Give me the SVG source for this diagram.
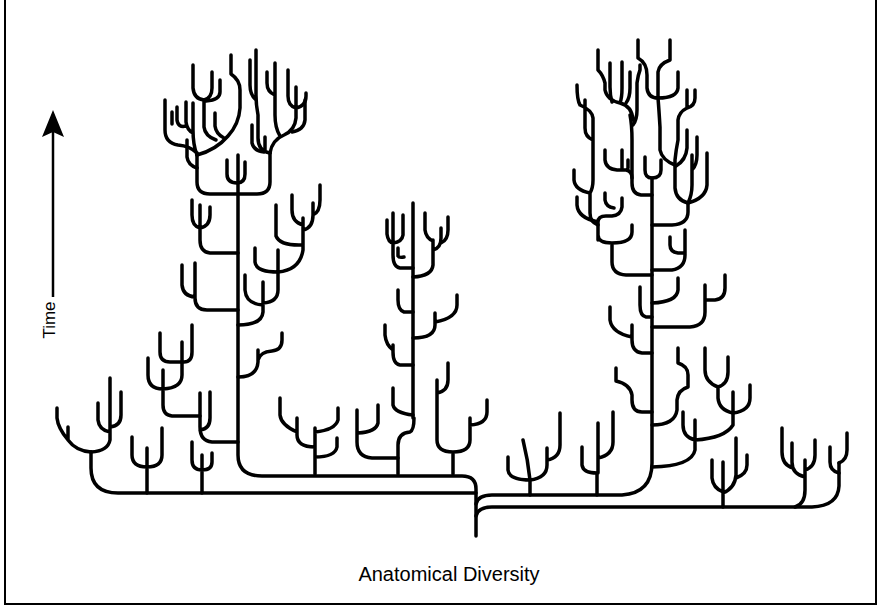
<svg xmlns="http://www.w3.org/2000/svg" width="880" height="610" viewBox="0 0 880 610">
<style>
.t{fill:none;stroke:#000;stroke-width:3.5;stroke-linecap:round;stroke-linejoin:round}
.fr{fill:none;stroke:#000;stroke-width:2}
.lb{font-family:"Liberation Sans",Arial,Helvetica,sans-serif;fill:#000}
</style>
<rect width="880" height="610" fill="#fff"/>
<g id="frame"><path class="fr" d="M5,0V604H876V0"/></g>
<g id="time-axis">
<path d="M53,297V128" stroke="#000" stroke-width="2.5" fill="none"/>
<path d="M53,110L64,137L53,132L42,137Z" fill="#000"/>
<text class="lb" font-size="17" transform="translate(55,320) rotate(-90)" text-anchor="middle">Time</text>
</g>
<g id="x-label"><text class="lb" x="449" y="581" font-size="20" text-anchor="middle">Anatomical Diversity</text></g>
<g id="connectors" class="t">
<g id="root">
<path d="M476,536V489Q476,476 462,476H262Q238,476 238,455V155"/>
<path d="M476,493H118Q91,493 91,468V452"/>
<path d="M476,504Q478,495 492,495H622Q652,493 652,463V178"/>
<path d="M476,516Q478,507 492,507H812Q838,506 839,486V463"/>
</g>
<g id="left-clades">
<path d="M91,452Q76,451 68,440Q58,428 57,418V408M68,440V427"/>
<path d="M91,452Q108,451 110,440V378M110,432Q99,430 98,420V403M110,427Q121,426 121,415V392"/>
<path d="M147,493V448M132,437V455Q132,467 147,467Q162,467 162,455V428"/>
<path d="M202,493V455M192,442V460Q192,470 202,470Q212,470 212,462V453"/>
</g>
<g id="big-left-tree">
<path d="M238,442H212Q200,441 200,427V393M200,430Q210,429 210,418V392"/>
<path d="M200,416H172Q163,415 163,405V370M148,358V375Q148,389 163,389Q182,388 182,375V362"/>
<path d="M160,333V352Q160,362 170,362H184Q192,362 192,352V325M182,362V342"/>
<path d="M238,377Q257,377 258,362V350M258,360Q260,352 272,351Q282,350 282,340V333"/>
<path d="M238,310H207Q195,310 195,298V263M195,297Q183,296 182,285V265"/>
<path d="M238,325Q262,325 263,312V282M263,305Q246,304 245,290V275M263,303Q278,302 278,290V250M278,272Q256,272 255,262V248"/>
<path d="M278,272Q300,270 303,250V218M303,225Q292,222 292,210V195M303,230Q313,228 313,215V203M313,215Q320,212 320,200V185M303,245Q280,246 276,236V205"/>
<path d="M238,253H210Q200,252 200,240V205M200,228Q192,226 192,215V200M200,228Q210,226 210,215V207"/>
<path d="M197,153V182Q197,194 210,194H257Q270,194 270,182V153"/>
<path d="M227,160V174Q227,183 237,183Q245,183 245,174V162"/>
<path d="M197,153Q190,146 178,145Q165,143 165,130V100M197,155Q193,145 193,130V103M186,102V122Q187,130 193,133M177,107V120Q178,128 186,126"/>
<path d="M197,155Q216,150 228,136Q239,124 240,108V90Q240,80 231,74V55"/>
<path d="M204,100V127Q205,136 216,140M193,65V88Q194,99 204,100M204,100Q212,98 212,88V72M220,80V92Q220,100 206,101M215,113V126Q216,134 224,138"/>
<path d="M270,153Q258,151 258,138V115Q256,105 256,95V50M256,100Q250,95 250,85V60"/>
<path d="M270,153Q272,140 284,135Q295,130 296,118V108M296,108Q288,106 288,96V70M296,108Q306,106 306,96V93M296,108V87M280,136Q275,128 275,115V63M275,95Q267,92 267,83V72"/>
<path d="M252,125V143Q254,151 264,152M187,140V157Q188,165 197,168M305,100V120Q304,130 292,132M265,137V150M172,112V124"/>
</g>
<g id="center-tree">
<path d="M413,418V203M398,474V445Q398,433 410,432Q414,430 414,418"/>
<path d="M453,474V452M437,380V440Q437,452 453,452Q470,452 470,440V418M470,425Q487,424 487,412V400M437,393Q448,391 448,380V363"/>
<path d="M398,458H372Q357,457 357,442V410M378,405V423Q376,432 358,433"/>
<path d="M315,474V428M315,447Q297,447 297,435V418M297,432Q281,425 280,415V398M315,432Q335,430 338,420V408M315,457Q335,457 337,447V438"/>
<path d="M413,312H404Q398,310 398,300V290"/>
<path d="M413,338Q435,338 435,325V313M435,322Q457,318 457,305V295"/>
<path d="M413,365H400Q393,364 393,352V345M393,350Q386,345 385,335V325"/>
<path d="M393,388V405Q395,413 413,415"/>
<path d="M413,268H400Q393,267 393,255V243M387,220V234Q388,242 393,243Q402,242 403,235V215M393,243V213M398,248V256Q399,258 404,257"/>
<path d="M413,277Q432,276 433,265V240M425,213V230Q426,238 433,241M433,250Q441,248 441,238V228M441,243Q448,240 448,230V217"/>
</g>
<g id="right-tree">
<path d="M652,467Q692,466 695,450V420M695,440Q683,437 683,425V412M695,440Q725,438 733,425V413"/>
<path d="M733,413Q719,410 718,398V387M733,413V392M733,413Q750,411 750,398V385M718,387Q705,382 705,370V348M718,387Q728,384 728,372V357"/>
<path d="M652,425Q675,425 677,410V400Q678,390 688,387V375Q688,366 678,363V348"/>
<path d="M652,412H642Q632,412 632,400V395Q630,384 616,381V368"/>
<path d="M652,353H642Q632,352 632,340V325M632,337Q612,333 610,320V307"/>
<path d="M652,327H690Q705,326 705,312V285M705,300H715Q725,299 725,288V275"/>
<path d="M652,317H646Q640,316 640,305V287"/>
<path d="M652,303Q677,302 678,290V278"/>
<path d="M652,270H672Q685,268 685,255V230M685,253H678Q670,252 670,245V237"/>
<path d="M652,275H626Q612,274 612,262V243M598,240V235Q598,243 612,243Q632,243 632,232V225M598,240V222Q598,216 606,216H612Q621,215 622,207V198M598,222Q578,218 577,205V197M605,193V200Q606,207 614,208"/>
<path d="M598,225Q590,222 590,213V193M590,193Q575,190 574,180V170M590,193Q593,188 593,180V118Q592,110 580,105Q577,100 577,85M593,140Q585,137 585,128V100"/>
<path d="M645,157V170Q645,178 652,178Q661,178 661,170V160"/>
<path d="M652,195H641Q632,194 632,183V140Q632,125 630,115"/>
<path d="M605,150V160Q606,169 617,170H626Q632,171 632,178M622,150V168M628,160V168"/>
<path d="M633,120Q632,106 620,103M620,103Q607,100 605,90V83Q603,75 598,70V50M612,102Q610,95 610,87V63M620,103Q622,98 622,88V62M626,103Q630,98 630,88V72M633,125Q637,120 637,110V83Q638,75 640,70V65"/>
<path d="M652,225H672Q688,224 688,212V203"/>
<path d="M688,203Q676,200 675,188V160Q676,150 678,140V120Q679,112 687,108V90M687,108Q695,106 695,98V90"/>
<path d="M675,165Q662,160 660,150V127Q659,110 658,98M687,130V148Q686,160 676,166"/>
<path d="M688,203Q692,195 692,185V155M692,170Q697,165 697,155V137M688,203Q706,198 707,185V153"/>
<path d="M647,75V88Q648,98 658,98Q677,98 678,88V72M647,75Q647,63 638,58V40M658,98V72Q659,64 670,60V40"/>
</g>
<g id="right-clades">
<path d="M530,495V480M508,457V470Q509,480 530,480M530,480Q528,460 523,440M530,480Q547,478 547,465V448M547,460Q560,458 560,445V413"/>
<path d="M597,495V473M582,447V465Q583,473 597,473M598,473V423M598,458Q613,455 613,442V412"/>
<path d="M723,507V462M712,460V478Q713,488 723,492M723,493Q735,488 736,475V438M736,478Q747,474 747,465V455"/>
<path d="M795,507Q805,504 805,490V460M805,477Q792,474 792,462V443M793,468Q782,465 782,452V428M805,470Q815,467 815,455V440"/>
<path d="M839,473Q830,471 830,462V447M839,463Q847,460 847,450V433"/>
</g>
</g>
</svg>
